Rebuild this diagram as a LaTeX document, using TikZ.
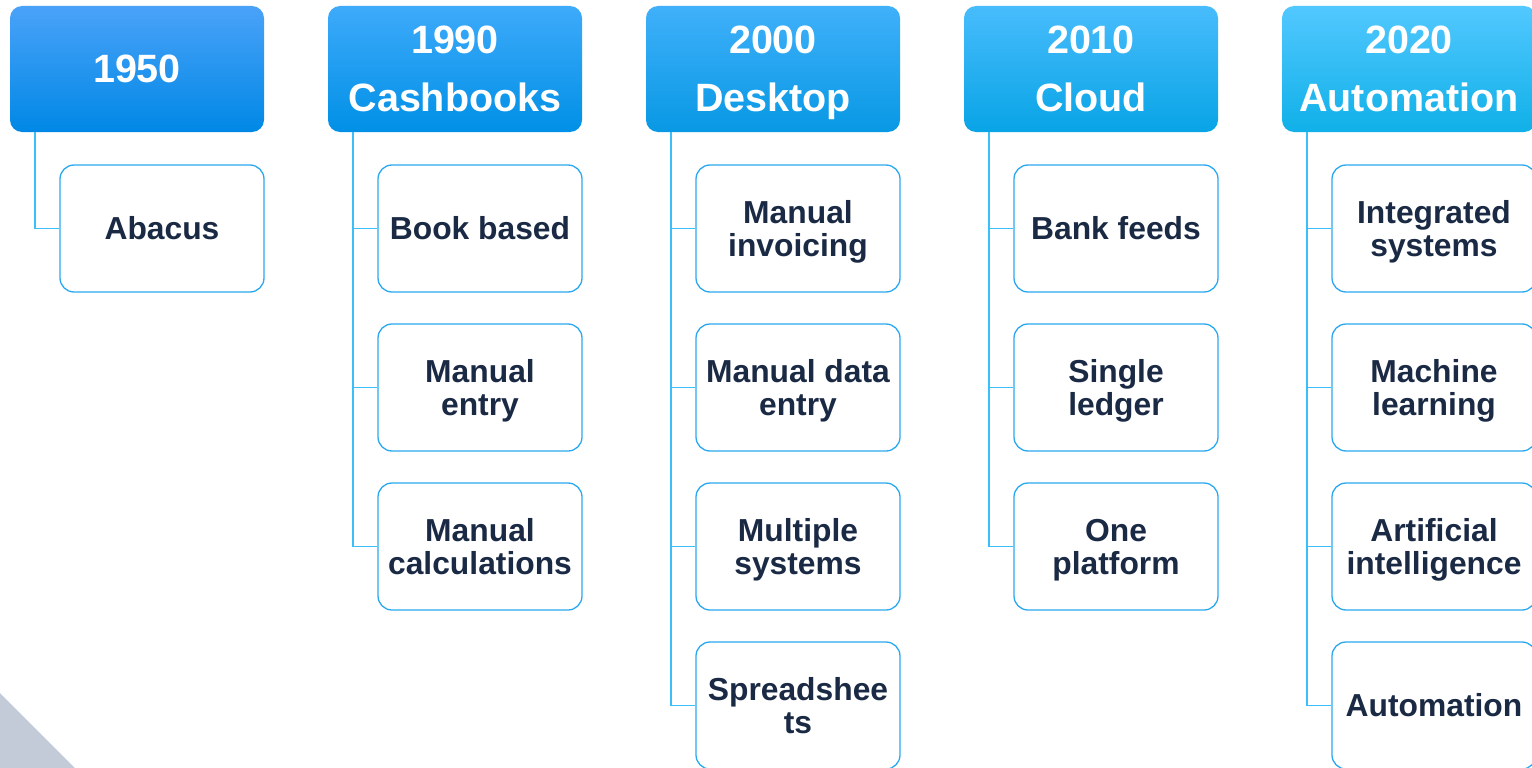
\documentclass[tikz,border=0pt]{standalone}
\usepackage{fontspec}
\setmainfont{Liberation Sans}
\definecolor{navy}{HTML}{1B2A44}
\definecolor{conncol}{HTML}{3CBEF8}
\definecolor{boxcol}{HTML}{2AA8F0}
\definecolor{tricol}{HTML}{C3CAD8}
\newcommand{\nodp}[1]{\raisebox{0pt}[\height][0pt]{#1}}
\begin{document}
\begin{tikzpicture}[x=1pt,y=-1pt,
  header/.style={rounded corners=12pt, minimum width=254pt, minimum height=126pt, inner sep=0pt,
    text=white, align=center, font=\fontsize{39.5}{58}\selectfont\bfseries},
  child/.style={draw=boxcol, line width=1.3pt, fill=white, rounded corners=14pt, minimum width=204pt,
    minimum height=127pt, inner sep=0pt, text=navy, align=center, font=\fontsize{31.8}{33}\selectfont\bfseries},
  conn/.style={draw=conncol, line width=1.3pt}]
\useasboundingbox (0,0) rectangle (1532,768);
\clip (0,0) rectangle (1532,768);
\fill[tricol] (0,693) -- (75,768) -- (0,768) -- cycle;
% headers
\node[header, top color={rgb,255:red,74;green,162;blue,248}, middle color={rgb,255:red,10;green,152;blue,246}, bottom color={rgb,255:red,0;green,136;blue,230}] (h1) at (137,69) {1950};
\node[header, top color={rgb,255:red,62;green,170;blue,250}, middle color={rgb,255:red,8;green,160;blue,244}, bottom color={rgb,255:red,0;green,144;blue,230}] (h2) at (455,69) {1990\\\nodp{Cashbooks}};
\node[header, top color={rgb,255:red,64;green,176;blue,250}, middle color={rgb,255:red,16;green,168;blue,242}, bottom color={rgb,255:red,8;green,152;blue,228}] (h3) at (773,69) {2000\\\nodp{Desktop}};
\node[header, top color={rgb,255:red,72;green,188;blue,252}, middle color={rgb,255:red,20;green,180;blue,246}, bottom color={rgb,255:red,8;green,164;blue,230}] (h4) at (1091,69) {2010\\\nodp{Cloud}};
\node[header, top color={rgb,255:red,82;green,200;blue,255}, middle color={rgb,255:red,32;green,192;blue,255}, bottom color={rgb,255:red,16;green,176;blue,232}] (h5) at (1409,69) {2020\\\nodp{Automation}};
% connector anchors
\coordinate (a1) at (35,132);
\coordinate (a2) at (353,132);
\coordinate (a3) at (671,132);
\coordinate (a4) at (989,132);
\coordinate (a5) at (1307,132);
% children
\node[child] (c11) at (162,228.5) {Abacus};
\node[child] (c21) at (480,228.5) {Book based};
\node[child] (c22) at (480,387.5) {Manual\\\nodp{entry}};
\node[child] (c23) at (480,546.5) {Manual\\\nodp{calculations}};
\node[child] (c31) at (798,228.5) {Manual\\\nodp{invoicing}};
\node[child] (c32) at (798,387.5) {Manual data\\\nodp{entry}};
\node[child] (c33) at (798,546.5) {Multiple\\\nodp{systems}};
\node[child] (c34) at (798,705.5) {Spreadshee\\\nodp{ts}};
\node[child] (c41) at (1116,228.5) {Bank feeds};
\node[child] (c42) at (1116,387.5) {Single\\\nodp{ledger}};
\node[child] (c43) at (1116,546.5) {One\\\nodp{platform}};
\node[child] (c51) at (1434,228.5) {Integrated\\\nodp{systems}};
\node[child] (c52) at (1434,387.5) {Machine\\\nodp{learning}};
\node[child] (c53) at (1434,546.5) {Artificial\\\nodp{intelligence}};
\node[child] (c54) at (1434,705.5) {Automation};
% connectors
\foreach \a/\c in {a1/c11,a2/c21,a2/c22,a2/c23,a3/c31,a3/c32,a3/c33,a3/c34,a4/c41,a4/c42,a4/c43,a5/c51,a5/c52,a5/c53,a5/c54}
  \draw[conn] (\a) |- (\c.west);
\end{tikzpicture}
\end{document}
